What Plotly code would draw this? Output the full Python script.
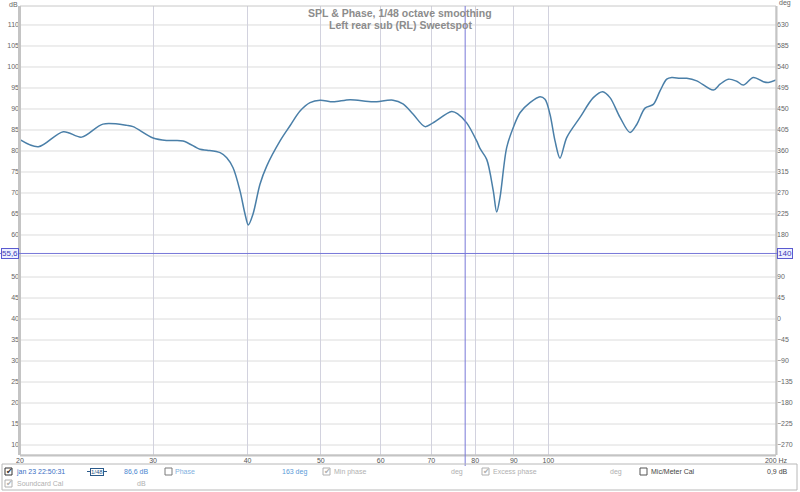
import plotly.graph_objects as go

# ---------------- data ----------------
freq_hz = [20.0, 21.15, 22.82, 24.13, 25.75, 27.71, 28.22, 30.0, 31.30, 32.87,
           34.61, 35.36, 36.79, 37.54, 38.27, 39.09, 39.69, 40.09, 40.67, 41.54,
           42.40, 44.16, 45.52, 46.93, 48.38, 49.89, 51.90, 54.65, 58.61, 62.29,
           64.21, 66.20, 68.66, 70.36, 74.48, 75.92, 77.96, 80.37, 81.18, 82.86,
           84.54, 85.42, 86.28, 88.06, 89.85, 91.71, 94.54, 97.47, 98.96, 100.49,
           102.03, 103.59, 105.73, 110.10, 114.65, 117.98, 120.63, 124.37, 128.22, 130.86,
           134.21, 137.65, 140.48, 143.38, 145.59, 149.32, 152.40, 157.11, 165.26, 168.67,
           172.99, 177.43, 181.04, 186.64, 192.42, 195.36, 200.0]
spl_db = [82.7, 81.0, 84.6, 83.3, 86.4, 86.1, 85.8, 83.1, 82.5, 82.4,
          80.4, 80.2, 79.6, 78.4, 76.0, 70.5, 65.0, 62.4, 65.0, 72.1,
          76.4, 82.4, 86.0, 89.5, 91.5, 92.1, 91.7, 92.2, 91.7, 92.1,
          91.2, 88.8, 85.8, 86.7, 89.4, 88.8, 86.7, 82.4, 80.6, 78.0,
          70.5, 65.5, 68.9, 80.8, 85.6, 89.1, 91.5, 92.9, 92.3, 88.7,
          82.4, 78.3, 83.2, 88.0, 92.7, 94.1, 92.7, 88.0, 84.4, 86.3,
          90.2, 91.1, 94.3, 97.1, 97.5, 97.3, 97.3, 96.7, 94.5, 95.9,
          97.1, 96.6, 95.7, 97.5, 96.5, 96.3, 96.9]

# grid lines every 5 dB; labels (55 dB / 135 deg are hidden under the cursor boxes)
db_grid = list(range(10, 115, 5))
db_tick_labels = [10, 15, 20, 25, 30, 35, 40, 45, 50, 60, 65, 70, 75, 80, 85, 90, 95, 100, 105, 110]
deg_tick_labels = [-270, -225, -180, -135, -90, -45, 0, 45, 90, 180, 225, 270, 315, 360,
                   405, 450, 495, 540, 585, 630]
x_tick_vals = [20, 30, 40, 50, 60, 70, 80, 90, 100, 200]
x_tick_text = ["20", "30", "40", "50", "60", "70", "80", "90", "100", "200 Hz"]

cursor_freq = 77.6
cursor_db = 55.6
cursor_deg = 140
cursor_freq_text = "77,6"
cursor_db_text = "55,6"
cursor_deg_text = "140"

title_line1 = "SPL & Phase, 1/48 octave smoothing"
title_line2 = "Left rear sub (RL) Sweetspot"

# ---------------- layout geometry ----------------
W, H = 800, 492
L, R, T, B = 20, 776, 6, 455
db_range = [7.62, 114.52]
deg_range = [9 * db_range[0] - 360, 9 * db_range[1] - 360]


def px(x):
    return (x - L) / (R - L)


def py(y):
    return (B - y) / (B - T)


FONT = "Arial, Liberation Sans, sans-serif"

fig = go.Figure()
fig.add_trace(go.Scatter(
    x=freq_hz, y=spl_db, mode="lines",
    line=dict(color="#4a7fa8", width=1.5, shape="spline", smoothing=0.9),
    hoverinfo="skip", showlegend=False))
fig.add_trace(go.Scatter(x=[20], y=[None], yaxis="y2", mode="lines",
                         showlegend=False, hoverinfo="skip"))

shapes = []
annotations = []

# horizontal grid lines
for v in db_grid:
    shapes.append(dict(type="line", xref="paper", yref="y", x0=0, x1=1, y0=v, y1=v,
                       line=dict(color="#dcdcdc", width=1), layer="below"))

# plot frame
shapes.append(dict(type="rect", xref="paper", yref="paper", x0=0, x1=1, y0=0, y1=1,
                   line=dict(color="#c8c8c8", width=1), layer="above"))
shapes.append(dict(type="line", xref="paper", yref="paper", x0=px(19.5), x1=px(19.5), y0=0, y1=1,
                   line=dict(color="#c4c4c4", width=3), layer="above"))
shapes.append(dict(type="line", xref="paper", yref="paper", x0=px(776.5), x1=px(776.5), y0=0, y1=1,
                   line=dict(color="#c4c4c4", width=2), layer="above"))
shapes.append(dict(type="line", xref="paper", yref="paper", x0=0, x1=1, y0=py(455.5), y1=py(455.5),
                   line=dict(color="#c4c4c4", width=2), layer="above"))

# cursors
cur_col = "#7878d8"
shapes.append(dict(type="line", xref="x", yref="paper", x0=cursor_freq, x1=cursor_freq,
                   y0=py(466), y1=1, line=dict(color=cur_col, width=1)))
shapes.append(dict(type="line", xref="paper", yref="y", x0=px(0), x1=px(792),
                   y0=cursor_db, y1=cursor_db, line=dict(color=cur_col, width=1)))

box = dict(font=dict(family=FONT, size=8, color="#3a3ab8"), bgcolor="#eef0ff",
           bordercolor="#5a5ad0", borderwidth=1, borderpad=0, showarrow=False)
annotations.append(dict(text=cursor_db_text, xref="paper", yref="y", x=px(10), y=cursor_db,
                        xanchor="center", yanchor="middle", **box))
annotations.append(dict(text=cursor_deg_text, xref="paper", yref="y", x=px(785), y=cursor_db,
                        xanchor="center", yanchor="middle", **box))
annotations.append(dict(text=cursor_freq_text, xref="x", yref="paper", x=cursor_freq, y=py(460),
                        xanchor="center", yanchor="middle", **box))

# axis unit labels
annotations.append(dict(text="dB", xref="paper", yref="paper", x=px(13), y=py(4),
                        showarrow=False, font=dict(family=FONT, size=7, color="#666"),
                        xanchor="center", yanchor="middle"))
annotations.append(dict(text="deg", xref="paper", yref="paper", x=px(785), y=py(3),
                        showarrow=False, font=dict(family=FONT, size=7, color="#666"),
                        xanchor="center", yanchor="middle"))

# titles
annotations.append(dict(text="<b>" + title_line1 + "</b>", xref="paper", yref="paper",
                        x=px(400), y=py(13), showarrow=False, xanchor="center", yanchor="middle",
                        font=dict(family=FONT, size=10.5, color="#8c8c8c")))
annotations.append(dict(text="<b>" + title_line2 + "</b>", xref="paper", yref="paper",
                        x=px(400), y=py(25), showarrow=False, xanchor="center", yanchor="middle",
                        font=dict(family=FONT, size=10.5, color="#8c8c8c")))

# bottom panel
shapes.append(dict(type="rect", xref="paper", yref="paper", x0=px(2), x1=px(797),
                   y0=py(490), y1=py(464), line=dict(color="#b8b8b8", width=1),
                   fillcolor="rgba(0,0,0,0)"))


def checkbox(x, y, checked, col):
    shapes.append(dict(type="rect", xref="paper", yref="paper", x0=px(x), x1=px(x + 7),
                       y0=py(y + 3.5), y1=py(y - 3.5), line=dict(color=col, width=1),
                       fillcolor="white"))
    if checked:
        annotations.append(dict(text="✔", xref="paper", yref="paper", x=px(x + 4), y=py(y - 0.5),
                                showarrow=False, xanchor="center", yanchor="middle",
                                font=dict(family="DejaVu Sans", size=8, color=col)))


def label(x, y, text, col, anchor="left"):
    annotations.append(dict(text=text, xref="paper", yref="paper", x=px(x), y=py(y),
                            showarrow=False, xanchor=anchor, yanchor="middle",
                            font=dict(family=FONT, size=7, color=col)))


r1, r2 = 471.5, 483.5
checkbox(5, r1, True, "#333333")
label(14, r1, "jan 23 22:50:31", "#3b6fc4")
# smoothing icon
shapes.append(dict(type="line", xref="paper", yref="paper", x0=px(87), x1=px(107),
                   y0=py(r1), y1=py(r1), line=dict(color="#2a5a8a", width=1)))
annotations.append(dict(text="1/48", xref="paper", yref="paper", x=px(97), y=py(r1),
                        showarrow=False, xanchor="center", yanchor="middle",
                        font=dict(family=FONT, size=6, color="#2a5a8a"),
                        bgcolor="white", bordercolor="#2a5a8a", borderwidth=1, borderpad=0))
label(122, r1, "86,6 dB", "#4a86d0")
checkbox(165, r1, False, "#7a7a7a")
label(173, r1, "Phase", "#7fb0e0")
label(280, r1, "163 deg", "#5a9ad8")
checkbox(323, r1, True, "#b0b0b0")
label(332, r1, "Min phase", "#b0b0b0")
label(449, r1, "deg", "#b0b0b0")
checkbox(482, r1, True, "#b0b0b0")
label(491, r1, "Excess phase", "#b0b0b0")
label(608, r1, "deg", "#b0b0b0")
checkbox(640, r1, False, "#555555")
label(649, r1, "Mic/Meter Cal", "#444444")
label(765, r1, "0,9 dB", "#444444")
checkbox(5, r2, True, "#b0b0b0")
label(15, r2, "Soundcard Cal", "#b0b0b0")
label(135, r2, "dB", "#b0b0b0")

fig.update_layout(
    width=W, height=H,
    margin=dict(l=L, r=W - R, t=T, b=H - B, pad=0),
    paper_bgcolor="white", plot_bgcolor="white",
    showlegend=False,
    xaxis=dict(type="log", range=[1.30103, 2.30103], tickvals=x_tick_vals, ticktext=x_tick_text,
               showgrid=True, gridcolor="#d2d2de", gridwidth=1, zeroline=False, showline=False,
               ticks="", ticklen=0, tickfont=dict(family=FONT, size=7, color="#555")),
    yaxis=dict(range=db_range, tickvals=db_tick_labels, showgrid=False,
               zeroline=False, showline=False, ticks="", tickfont=dict(family=FONT, size=7, color="#666")),
    yaxis2=dict(range=deg_range, tickvals=deg_tick_labels, overlaying="y", side="right", showgrid=False,
                zeroline=False, showline=False, ticks="", tickfont=dict(family=FONT, size=7, color="#666")),
    shapes=shapes, annotations=annotations,
)

fig.write_html("out.html", config={"displayModeBar": False},
               post_script="document.body.style.margin='0';document.body.style.overflow='hidden';")
